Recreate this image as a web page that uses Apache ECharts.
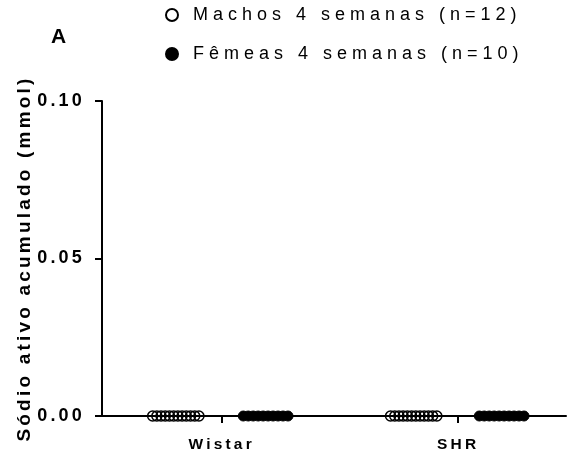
<!DOCTYPE html>
<html>
<head>
<meta charset="utf-8">
<script src="https://cdn.jsdelivr.net/npm/echarts@6/dist/echarts.min.js"></script>
<style>
  html, body { margin: 0; padding: 0; background: #fff; }
  #chart { width: 567px; height: 453px; }
</style>
</head>
<body>
<div id="chart"></div>
<script>
// dados (todos os valores ficaram em zero)
var categorias = ['Wistar', 'SHR'];
var machosWistar = [0, 0, 0, 0, 0, 0, 0, 0, 0, 0, 0, 0];
var femeasWistar = [0, 0, 0, 0, 0, 0, 0, 0, 0, 0];
var machosSHR = [0, 0, 0, 0, 0, 0, 0, 0, 0, 0, 0, 0];
var femeasSHR = [0, 0, 0, 0, 0, 0, 0, 0, 0, 0];
var yTicks = [0, 0.05, 0.10];

// GraphPad-like spaced lettering (regular text is spaced a bit wider)
var _fillText = CanvasRenderingContext2D.prototype.fillText;
CanvasRenderingContext2D.prototype.fillText = function () {
  this.letterSpacing = /bold/.test(this.font) ? '3.2px' : '5px';
  return _fillText.apply(this, arguments);
};

var font = 'Liberation Sans, Arial, sans-serif';

// spread the points of a group horizontally around its category
function espalhar(valores, pos, desloc, passo) {
  var n = valores.length;
  return valores.map(function (v, i) {
    return [pos + desloc + (i - (n - 1) / 2) * passo, v];
  });
}

var myChart = echarts.init(document.getElementById('chart'));

var option = {
  animation: false,
  backgroundColor: '#fff',
  grid: { left: 102, right: 1, top: 101, bottom: 36 },
  legend: {
    orient: 'vertical',
    left: 160,
    top: 1,
    itemWidth: 12,
    itemHeight: 12,
    itemGap: 21,
    textStyle: { fontFamily: font, fontSize: 18, color: '#000', padding: [0, 0, 0, 10] },
    data: [
      { name: 'Machos 4 semanas (n=12)', icon: 'circle' },
      { name: 'Fêmeas 4 semanas (n=10)', icon: 'circle' }
    ]
  },
  graphic: [{
    type: 'text', left: 51, top: 27,
    style: { text: 'A', font: 'bold 21px ' + font, fill: '#000' }
  }],
  xAxis: {
    type: 'value',
    min: 0.494,
    max: 2.456,
    splitLine: { show: false },
    axisLine: { lineStyle: { color: '#000', width: 2 } },
    axisTick: { show: true, length: 7, lineStyle: { color: '#000', width: 2 }, customValues: [1, 2] },
    axisLabel: {
      customValues: [1, 2],
      formatter: function (v) { return categorias[Math.round(v) - 1]; },
      fontFamily: font, fontSize: 15.5, fontWeight: 'bold', color: '#000', margin: 21
    }
  },
  yAxis: {
    type: 'value',
    min: 0,
    max: 0.10,
    interval: 0.05,
    name: 'Sódio ativo acumulado (mmol)',
    nameLocation: 'middle',
    nameGap: 68,
    nameTextStyle: { fontFamily: font, fontSize: 19, fontWeight: 'bold', color: '#000' },
    splitLine: { show: false },
    axisLine: { show: true, lineStyle: { color: '#000', width: 2 } },
    axisTick: { show: true, length: 7, lineStyle: { color: '#000', width: 2 } },
    axisLabel: {
      formatter: function (v) { return v.toFixed(2); },
      fontFamily: font, fontSize: 18, fontWeight: 'bold', color: '#000', margin: 17
    }
  },
  series: [
    {
      name: 'Machos 4 semanas (n=12)',
      type: 'scatter',
      symbol: 'circle',
      symbolSize: 10,
      itemStyle: { color: 'rgba(255,255,255,0)', borderColor: '#000', borderWidth: 1.5, opacity: 1 },
      data: espalhar(machosWistar, 1, -0.194, 0.0178).concat(espalhar(machosSHR, 2, -0.188, 0.0178))
    },
    {
      name: 'Fêmeas 4 semanas (n=10)',
      type: 'scatter',
      symbol: 'circle',
      symbolSize: 10,
      itemStyle: { color: '#000', borderColor: '#000', borderWidth: 1, opacity: 1 },
      data: espalhar(femeasWistar, 1, 0.186, 0.021).concat(espalhar(femeasSHR, 2, 0.184, 0.021))
    }
  ]
};

myChart.setOption(option);
</script>
</body>
</html>
